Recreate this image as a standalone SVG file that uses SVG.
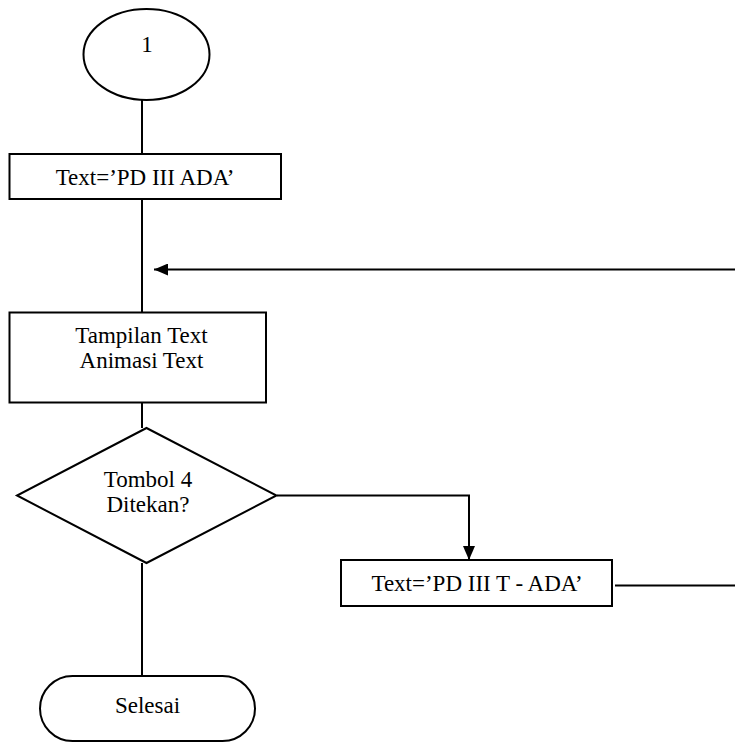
<svg xmlns="http://www.w3.org/2000/svg" width="735" height="743" viewBox="0 0 735 743">
<style>
.s{fill:#fff;stroke:#000;stroke-width:2}
.c{fill:none;stroke:#000;stroke-width:2}
text{font-family:"Liberation Serif","Times New Roman",serif;font-size:23px;fill:#000;text-anchor:middle}
</style>
<defs>
<marker id="ah" markerWidth="14" markerHeight="12" refX="14" refY="6" orient="auto" markerUnits="userSpaceOnUse">
<path d="M0,0 L14,6 L0,12 Z" fill="#000"/>
</marker>
</defs>
<rect width="735" height="743" fill="#fff"/>
<g id="connectors">
<line class="c" x1="142" y1="100" x2="142" y2="154"/>
<line class="c" x1="142" y1="199" x2="142" y2="312"/>
<line class="c" x1="735" y1="269.5" x2="154" y2="269.5" marker-end="url(#ah)"/>
<line class="c" x1="142" y1="402" x2="142" y2="428"/>
<polyline class="c" points="277,495.5 469,495.5 469,560" marker-end="url(#ah)"/>
<line class="c" x1="615" y1="585.5" x2="735" y2="585.5"/>
<line class="c" x1="142" y1="563" x2="142" y2="676"/>
</g>
<g id="start">
<ellipse class="s" cx="146.5" cy="54.5" rx="63" ry="45.5"/>
<text x="147" y="52">1</text>
</g>
<g id="text1">
<rect class="s" x="9.5" y="154" width="271.5" height="45"/>
<text x="145" y="185">Text=’PD III ADA’</text>
</g>
<g id="tampilan">
<rect class="s" x="9.5" y="312.5" width="256.5" height="90"/>
<text x="141.5" y="343">Tampilan Text</text>
<text x="141.5" y="368">Animasi Text</text>
</g>
<g id="decision">
<polygon class="s" points="146.5,428 276.5,495.5 146.5,563 17,495.5"/>
<text x="148" y="487">Tombol 4</text>
<text x="148" y="511.5">Ditekan?</text>
</g>
<g id="text2">
<rect class="s" x="341" y="560" width="271" height="46"/>
<text x="477" y="591">Text=’PD III T - ADA’</text>
</g>
<g id="selesai">
<rect class="s" x="40" y="676" width="215" height="65" rx="32.5" ry="32.5"/>
<text x="147.5" y="713">Selesai</text>
</g>
</svg>
